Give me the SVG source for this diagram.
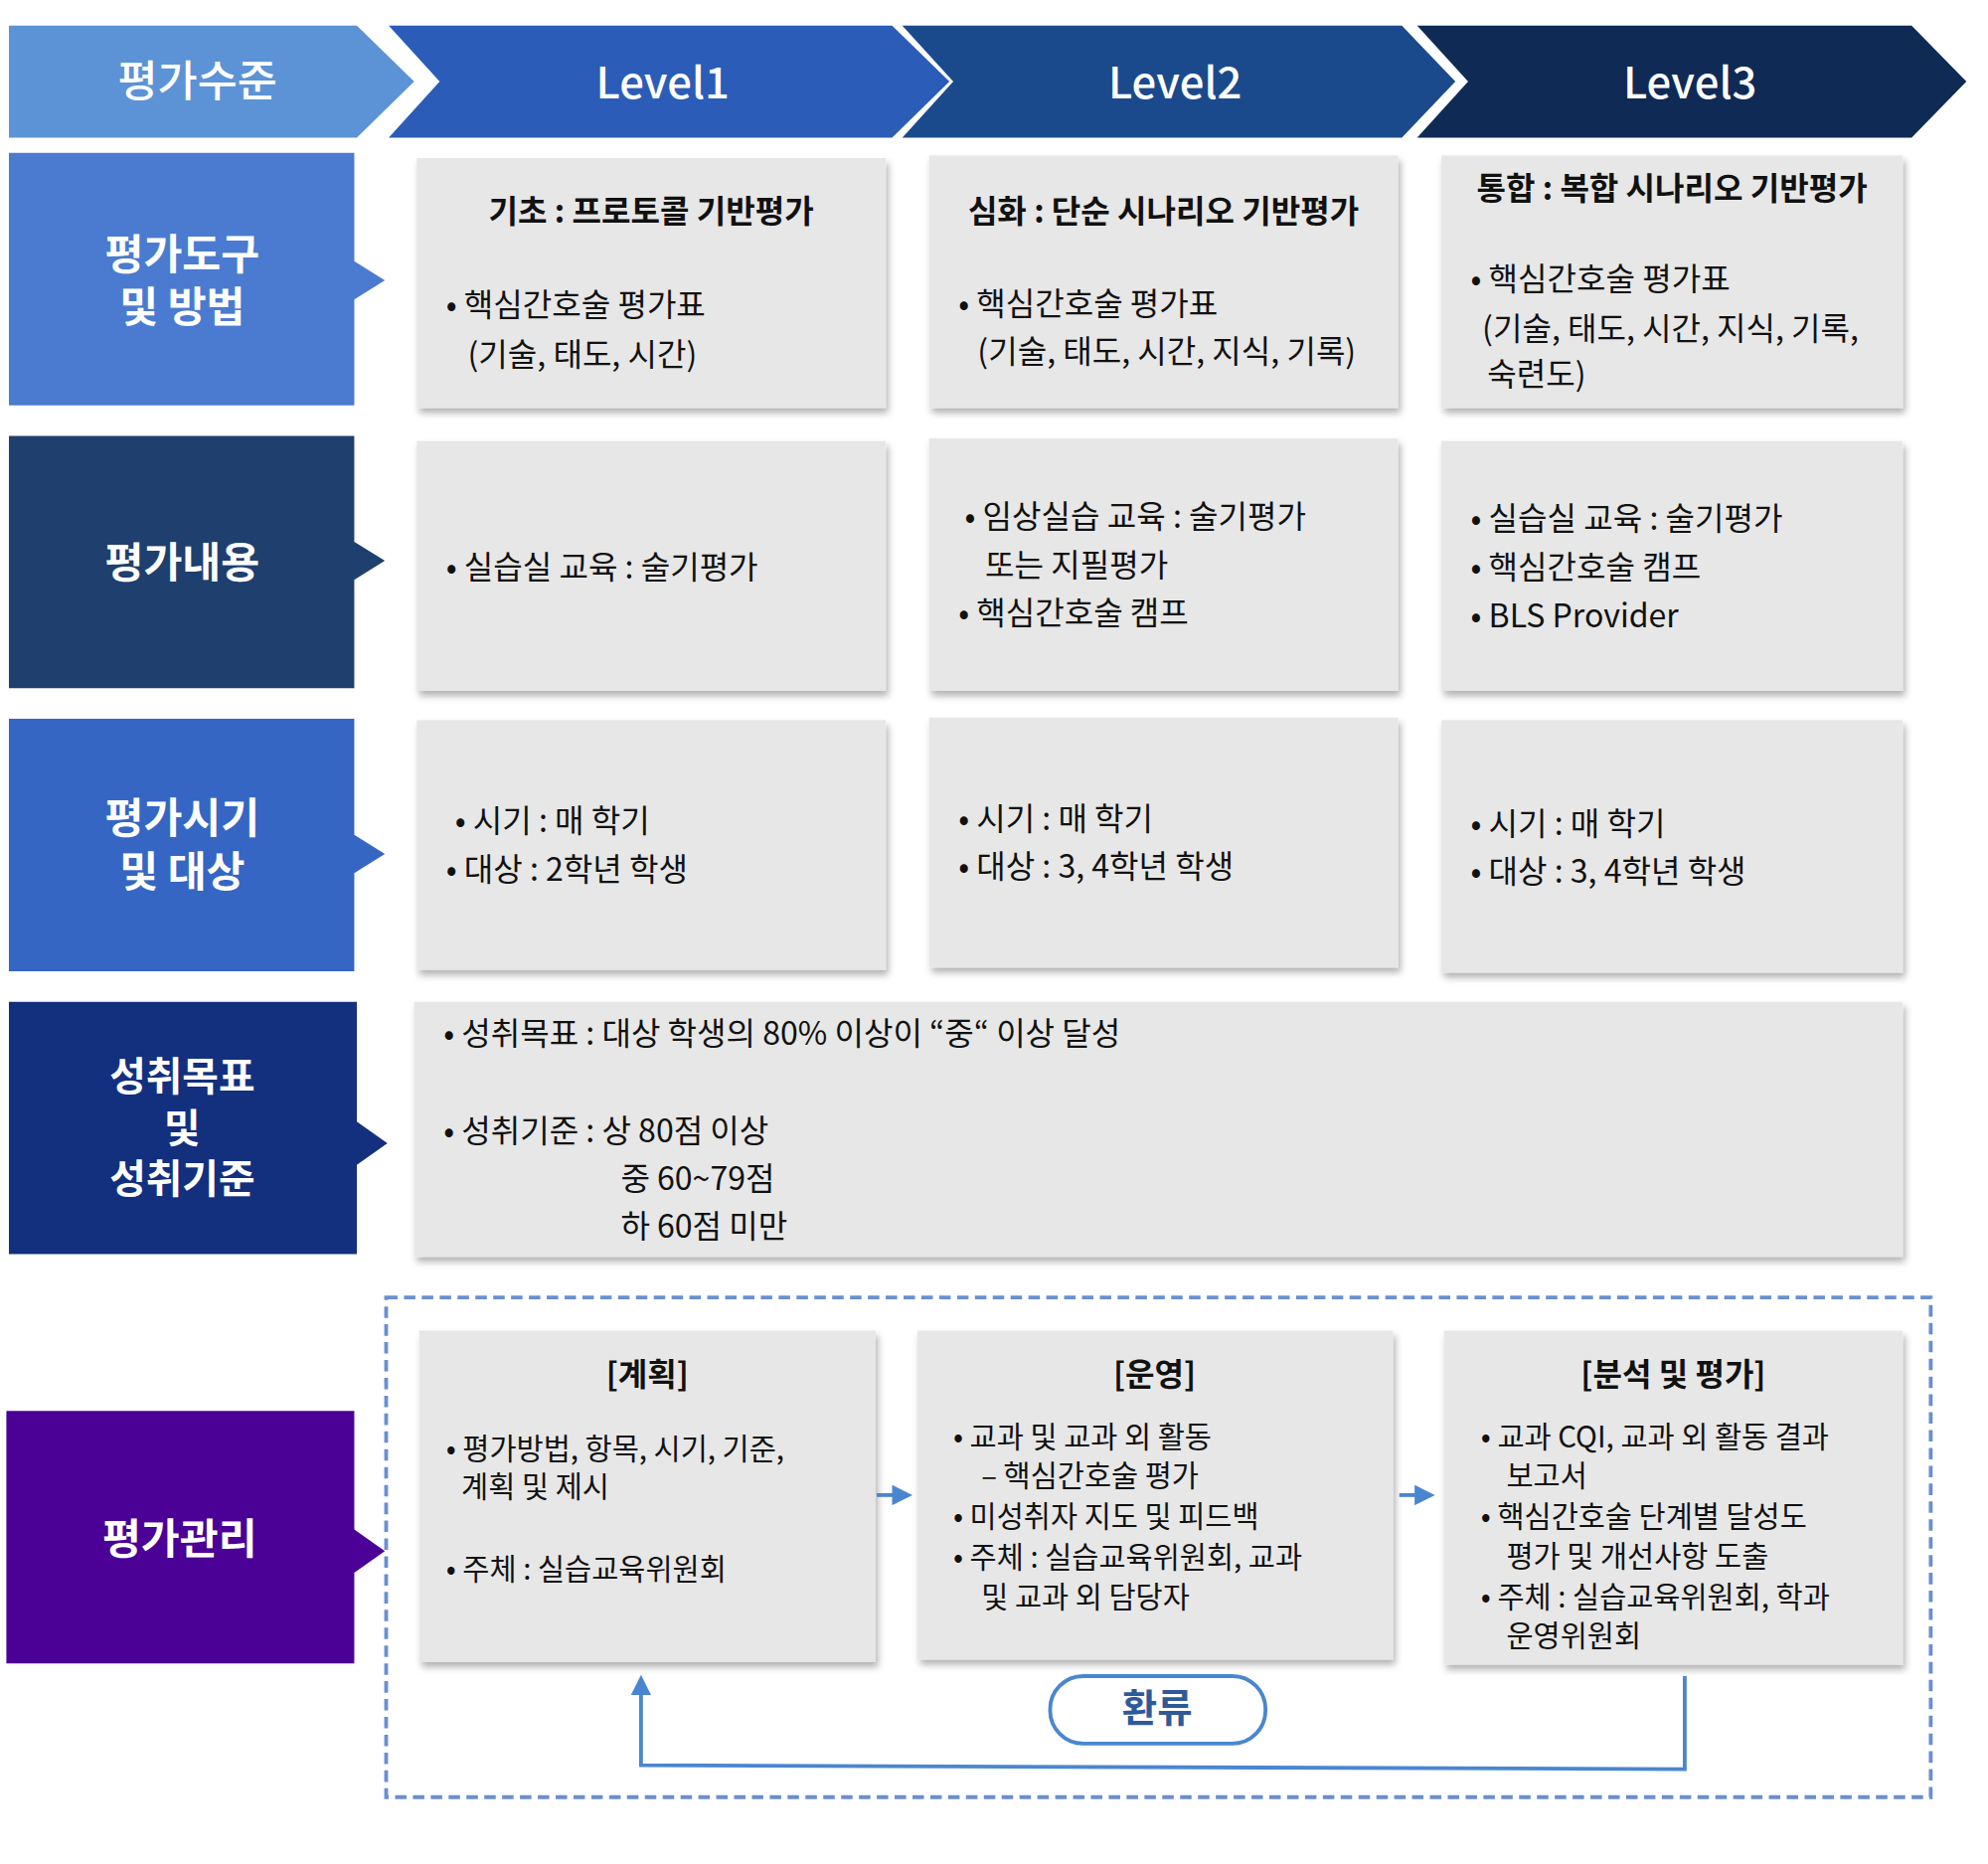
<svg xmlns="http://www.w3.org/2000/svg" width="2000" height="1875" viewBox="0 0 2000 1875">
<defs>
<style>
text{font-family:"Noto Sans CJK KR","Noto Sans",sans-serif;}
.h{fill:#fff;font-size:34px;font-weight:500;text-anchor:middle}
.l{fill:#fff;font-size:33px;font-weight:700;text-anchor:middle}
.b{fill:#111;font-size:25px}
.s{fill:#111;font-size:23px}
.t{fill:#111;font-size:25px;font-weight:700;text-anchor:middle}
.box{fill:#e7e7e7;filter:url(#sh)}
</style>
<filter id="sh" x="-5%" y="-5%" width="112%" height="115%"><feDropShadow dx="2" dy="4" stdDeviation="3" flood-color="#000" flood-opacity="0.3"/></filter>
<marker id="ar" markerWidth="16" markerHeight="16" refX="8" refY="8" orient="auto" markerUnits="userSpaceOnUse"><path d="M0,0 L16,8 L0,16 z" fill="#4a86d0"/></marker>
</defs>
<rect width="2000" height="1875" fill="#fff"/>
<g transform="scale(1.2821)">
<g id="header">
<polygon points="7,20 280,20 325,64 280,108 7,108" fill="#5b93d6"/>
<polygon points="305,20 700,20 745,64 700,108 305,108 345,64" fill="#2b5cb8"/>
<polygon points="708,20 1100,20 1142,64 1100,108 708,108 748,64" fill="#1b4a8c"/>
<polygon points="1112,20 1500,20 1543,64 1500,108 1112,108 1152,64" fill="#0f2a55"/>
<text class="h" x="155" y="76">평가수준</text>
<text class="h" x="520" y="77">Level1</text>
<text class="h" x="922" y="77">Level2</text>
<text class="h" x="1326" y="77">Level3</text>
</g>
<g id="row1-label"><polygon points="7,120 278,120 278,205 302,220 278,235 278,318 7,318" fill="#4a7bd0"/>
<text class="l" x="143" y="211">평가도구</text><text class="l" x="143" y="253">및 방법</text></g>
<g id="row2-label"><polygon points="7,342 278,342 278,425 302,440 278,455 278,540 7,540" fill="#1f3f6e"/>
<text class="l" x="143" y="453">평가내용</text></g>
<g id="row3-label"><polygon points="7,564 278,564 278,655 302,670 278,685 278,762 7,762" fill="#3566c4"/>
<text class="l" x="143" y="654">평가시기</text><text class="l" x="143" y="696">및 대상</text></g>
<g id="row4-label"><polygon points="7,786 280,786 280,880 304,897 280,914 280,984 7,984" fill="#13307f"/>
<text class="l" x="143" y="856" style="font-size:31px">성취목표</text><text class="l" x="143" y="896" style="font-size:31px">및</text><text class="l" x="143" y="936" style="font-size:31px">성취기준</text></g>
<g id="row5-label"><polygon points="5,1107 278,1107 278,1200 302,1217 278,1234 278,1305 5,1305" fill="#4b0096"/>
<text class="l" x="141" y="1219">평가관리</text></g>

<g id="r1c1"><rect class="box" x="327" y="124" width="368" height="196"/>
<text class="t" x="511" y="175">기초 : 프로토콜 기반평가</text>
<text class="b" x="350" y="248">• 핵심간호술 평가표</text><text class="b" x="367" y="287">(기술, 태도, 시간)</text></g>
<g id="r1c2"><rect class="box" x="729" y="122" width="368" height="198"/>
<text class="t" x="913" y="175">심화 : 단순 시나리오 기반평가</text>
<text class="b" x="752" y="247">• 핵심간호술 평가표</text><text class="b" x="767" y="285">(기술, 태도, 시간, 지식, 기록)</text></g>
<g id="r1c3"><rect class="box" x="1131" y="122" width="362" height="198"/>
<text class="t" x="1312" y="157">통합 : 복합 시나리오 기반평가</text>
<text class="b" x="1154" y="228">• 핵심간호술 평가표</text><text class="b" x="1163" y="267">(기술, 태도, 시간, 지식, 기록,</text><text class="b" x="1167" y="303">숙련도)</text></g>

<g id="r2c1"><rect class="box" x="327" y="346" width="368" height="196"/>
<text class="b" x="350" y="454">• 실습실 교육 : 술기평가</text></g>
<g id="r2c2"><rect class="box" x="729" y="344" width="368" height="198"/>
<text class="b" x="757" y="414">• 임상실습 교육 : 술기평가</text><text class="b" x="773" y="452">또는 지필평가</text><text class="b" x="752" y="490">• 핵심간호술 캠프</text></g>
<g id="r2c3"><rect class="box" x="1131" y="346" width="362" height="196"/>
<text class="b" x="1154" y="416">• 실습실 교육 : 술기평가</text><text class="b" x="1154" y="454">• 핵심간호술 캠프</text><text class="b" x="1154" y="492">• BLS Provider</text></g>

<g id="r3c1"><rect class="box" x="327" y="565" width="368" height="196"/>
<text class="b" x="357" y="653">• 시기 : 매 학기</text><text class="b" x="350" y="691">• 대상 : 2학년 학생</text></g>
<g id="r3c2"><rect class="box" x="729" y="563" width="368" height="196"/>
<text class="b" x="752" y="651">• 시기 : 매 학기</text><text class="b" x="752" y="689">• 대상 : 3, 4학년 학생</text></g>
<g id="r3c3"><rect class="box" x="1131" y="565" width="362" height="198"/>
<text class="b" x="1154" y="655">• 시기 : 매 학기</text><text class="b" x="1154" y="693">• 대상 : 3, 4학년 학생</text></g>

<g id="r4"><rect class="box" x="325" y="786" width="1168" height="200"/>
<text class="b" x="348" y="820">• 성취목표 : 대상 학생의 80% 이상이 “중“ 이상 달성</text>
<text class="b" x="348" y="896">• 성취기준 : 상 80점 이상</text>
<text class="b" x="487" y="934">중 60~79점</text>
<text class="b" x="487" y="971">하 60점 미만</text></g>

<g id="r5-frame"><rect x="303" y="1018" width="1212" height="392" fill="none" stroke="#6a8fd0" stroke-width="3" stroke-dasharray="9,5"/></g>
<g id="plan"><rect class="box" x="329" y="1044" width="358" height="260"/>
<text class="t" x="508" y="1087">[계획]</text>
<text class="s" x="350" y="1145">• 평가방법, 항목, 시기, 기준,</text><text class="s" x="362" y="1175">계획 및 제시</text>
<text class="s" x="350" y="1239">• 주체 : 실습교육위원회</text></g>
<g id="operate"><rect class="box" x="720" y="1044" width="373" height="258"/>
<text class="t" x="906" y="1087">[운영]</text>
<text class="s" x="748" y="1136">• 교과 및 교과 외 활동</text><text class="s" x="770" y="1166">– 핵심간호술 평가</text>
<text class="s" x="748" y="1198">• 미성취자 지도 및 피드백</text>
<text class="s" x="748" y="1230">• 주체 : 실습교육위원회, 교과</text><text class="s" x="770" y="1261">및 교과 외 담당자</text></g>
<g id="analyze"><rect class="box" x="1133" y="1044" width="360" height="262"/>
<text class="t" x="1313" y="1087">[분석 및 평가]</text>
<text class="s" x="1162" y="1136">• 교과 CQI, 교과 외 활동  결과</text><text class="s" x="1182" y="1166">보고서</text>
<text class="s" x="1162" y="1198">• 핵심간호술 단계별 달성도</text><text class="s" x="1182" y="1229">평가 및 개선사항 도출</text>
<text class="s" x="1162" y="1261">• 주체 : 실습교육위원회, 학과</text><text class="s" x="1182" y="1292">운영위원회</text></g>
<g id="feedback-label"><rect x="824" y="1315" width="169" height="53" rx="26" fill="#fff" stroke="#4a86d0" stroke-width="3"/>
<text x="908" y="1351" style="fill:#2f5a9a;font-size:30px;font-weight:700;text-anchor:middle">환류</text></g>
<g id="connectors" fill="none" stroke="#4a86d0" stroke-width="3">
<line x1="688" y1="1173" x2="708" y2="1173" marker-end="url(#ar)"/>
<line x1="1098" y1="1173" x2="1118" y2="1173" marker-end="url(#ar)"/>
<polyline points="1322,1315 1322,1388 503,1385 503,1322" marker-end="url(#ar)"/>
</g>
</g>
</svg>
